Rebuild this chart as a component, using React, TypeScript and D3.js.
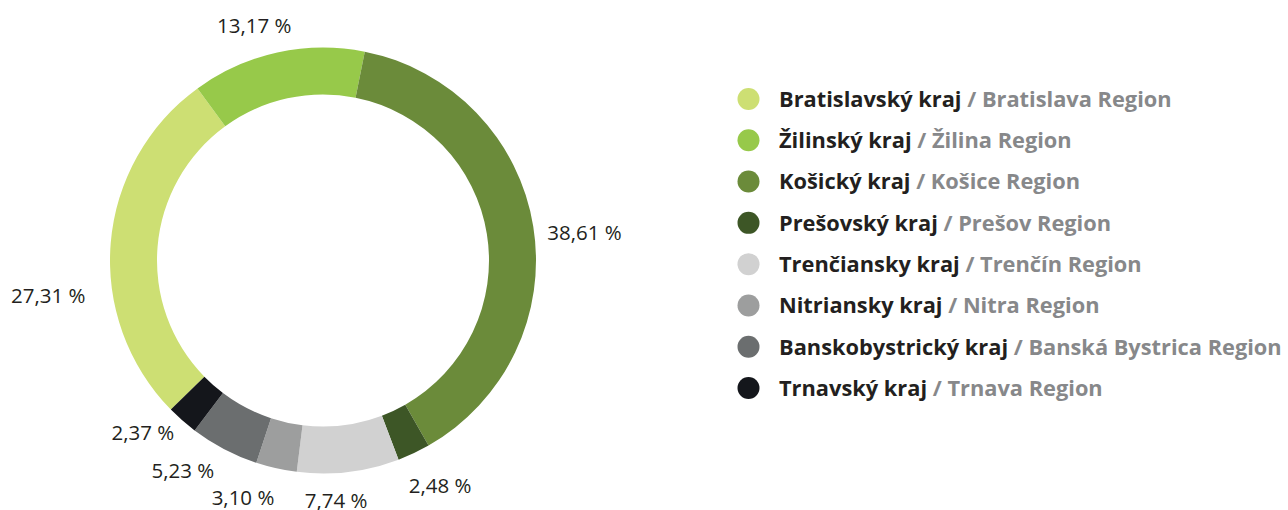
import React from "react";
import * as d3 from "d3";

const regionsSk = [
  "Bratislavský kraj",
  "Žilinský kraj",
  "Košický kraj",
  "Prešovský kraj",
  "Trenčiansky kraj",
  "Nitriansky kraj",
  "Banskobystrický kraj",
  "Trnavský kraj",
];
const regionsEn = [
  "Bratislava Region",
  "Žilina Region",
  "Košice Region",
  "Prešov Region",
  "Trenčín Region",
  "Nitra Region",
  "Banská Bystrica Region",
  "Trnava Region",
];
const shares = [27.31, 13.17, 38.61, 2.48, 7.74, 3.1, 5.23, 2.37];
const colors = [
  "#cddf73",
  "#97c94a",
  "#6b8b3a",
  "#3d5626",
  "#d1d1d1",
  "#9d9e9e",
  "#6b6e6f",
  "#14161b",
];

// label layout tweaks (angle shift in degrees, distance of label centre from pie centre)
const labelAngleShift = [-12, -3.9, 3.1, -2.2, 3.7, 6, 6, 5];
const labelDist = [277, 245, 263, 254, 240, 250, 253, 249];

const W = 1288;
const H = 510;
const CX = 323;
const CY = 260.5;
const R_OUT = 213;
const R_IN = 166;
const START = (-134.4 * Math.PI) / 180;
const FONT = "'Open Sans', 'Noto Sans', sans-serif";

export default function App() {
  const pie = d3
    .pie<number>()
    .sort(null)
    .value((d) => d)
    .startAngle(START)
    .endAngle(START + 2 * Math.PI);
  const arcs = pie(shares);
  const arc = d3.arc<d3.PieArcDatum<number>>().innerRadius(R_IN).outerRadius(R_OUT);
  const fmt = (v: number) => d3.format(".2f")(v).replace(".", ",") + " %";

  const legendY = d3.scalePoint<number>().domain(d3.range(regionsSk.length)).range([99, 388]);

  return (
    <svg
      width={W}
      height={H}
      style={{ position: "absolute", left: 0, top: 0, background: "#fff" }}
      fontFamily={FONT}
    >
      <g transform={`translate(${CX},${CY})`}>
        {arcs.map((a, i) => (
          <path key={i} d={arc(a) || ""} fill={colors[i]} />
        ))}
        {arcs.map((a, i) => {
          const mid = (a.startAngle + a.endAngle) / 2 + (labelAngleShift[i] * Math.PI) / 180;
          const x = labelDist[i] * Math.sin(mid);
          const y = -labelDist[i] * Math.cos(mid);
          return (
            <text
              key={i}
              x={x}
              y={y}
              dy="0.36em"
              textAnchor="middle"
              fontSize={20.5}
              fill="#231f20"
            >
              {fmt(shares[i])}
            </text>
          );
        })}
      </g>
      <g>
        {regionsSk.map((name, i) => (
          <g key={i} transform={`translate(0,${legendY(i)})`}>
            <circle cx={748.5} cy={0} r={11} fill={colors[i]} />
            <text x={779} y={0} dy="0.36em" fontSize={21.8} fontWeight={700} fill="#231f20">
              {name}
              <tspan fill="#87888a"> / {regionsEn[i]}</tspan>
            </text>
          </g>
        ))}
      </g>
    </svg>
  );
}
